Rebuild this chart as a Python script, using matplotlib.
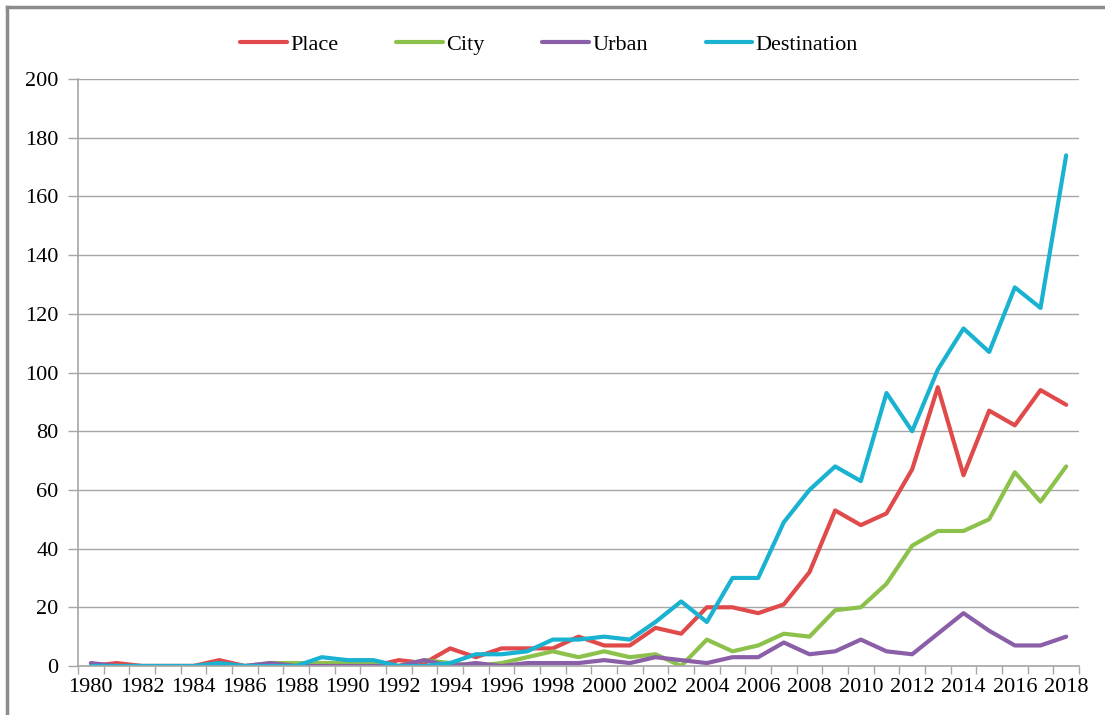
import matplotlib
matplotlib.use("Agg")
import matplotlib.pyplot as plt
from matplotlib.lines import Line2D

years = list(range(1980, 2019))
place = [0, 1, 0, 0, 0, 2, 0, 0, 0, 0, 0, 0, 2, 1, 6, 3, 6, 6, 6, 10,
         7, 7, 13, 11, 20, 20, 18, 21, 32, 53, 48, 52, 67, 95, 65, 87, 82, 94, 89]
city = [0, 0, 0, 0, 0, 0, 0, 1, 1, 1, 1, 1, 0, 2, 1, 0, 1, 3, 5, 3,
        5, 3, 4, 0, 9, 5, 7, 11, 10, 19, 20, 28, 41, 46, 46, 50, 66, 56, 68]
urban = [1, 0, 0, 0, 0, 0, 0, 1, 0, 0, 0, 0, 0, 2, 0, 1, 0, 1, 1, 1,
         2, 1, 3, 2, 1, 3, 3, 8, 4, 5, 9, 5, 4, 11, 18, 12, 7, 7, 10]
destination = [0, 0, 0, 0, 0, 1, 0, 0, 0, 3, 2, 2, 0, 0, 1, 4, 4, 5, 9, 9,
               10, 9, 15, 22, 15, 30, 30, 49, 60, 68, 63, 93, 80, 101, 115, 107, 129, 122, 174]
series_names = ["Place", "City", "Urban", "Destination"]
colors = ["#E04A4A", "#8CC14C", "#8B5EA8", "#19B2D0"]
y_ticks = list(range(0, 201, 20))

plt.rcParams['font.family'] = ['Liberation Serif', 'DejaVu Serif']
FS = 16

fig = plt.figure(figsize=(11.05, 7.15), dpi=100)
ax = fig.add_axes([78/1105, 49/715, 1001/1105, 587/715])

x = list(range(len(years)))
for vals, name, c in zip([place, city, urban, destination], series_names, colors):
    ax.plot(x, vals, color=c, lw=3.0, label=name, solid_joinstyle='round',
            solid_capstyle='round')

ax.set_xlim(-0.5, len(years) - 0.5)
ax.set_ylim(0, 200)
ax.set_yticks(y_ticks)
ax.set_yticklabels([str(v) for v in y_ticks], fontsize=FS)
ax.grid(axis='y', color='#A6A6A6', lw=1.0)
ax.set_axisbelow(True)

ax.set_xticks([i for i in x if i % 2 == 0])
ax.set_xticklabels([str(years[i]) for i in x if i % 2 == 0], fontsize=FS)
ax.tick_params(axis='x', which='major', length=0, pad=9)
ax.set_xticks([i - 0.5 for i in range(len(years) + 1)], minor=True)
ax.tick_params(axis='x', which='minor', length=6, color='#A6A6A6', width=1)
ax.tick_params(axis='y', length=7, color='#A6A6A6', width=1, pad=7)

for s in ['top', 'right']:
    ax.spines[s].set_visible(False)
for s in ['left', 'bottom']:
    ax.spines[s].set_color('#A6A6A6')
    ax.spines[s].set_linewidth(1.2)

fig.legend(loc='center', bbox_to_anchor=(549/1105, 1 - 45/715), ncol=4,
           frameon=False, fontsize=FS, handlelength=2.1, handletextpad=0.15,
           columnspacing=2.6)

# outer frame
fig.add_artist(Line2D([7/1105, 7/1105], [0, 1 - 7/715], transform=fig.transFigure,
                      color='#8C8C8C', lw=2.5))
fig.add_artist(Line2D([7/1105, 1], [1 - 7/715, 1 - 7/715], transform=fig.transFigure,
                      color='#8C8C8C', lw=2.5))

fig.savefig("out.png", dpi=100)
